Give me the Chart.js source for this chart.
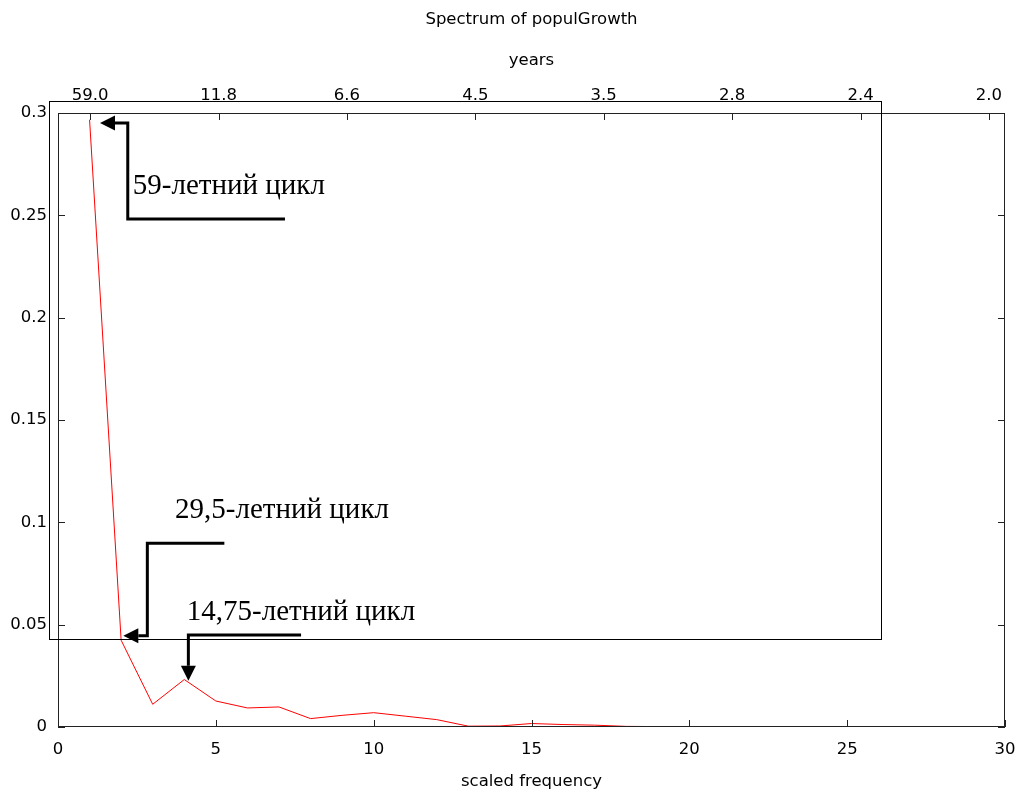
<!DOCTYPE html>
<html>
<head>
<meta charset="utf-8">
<script src="https://cdn.jsdelivr.net/npm/chart.js@4/dist/chart.umd.min.js"></script>
<style>
  html, body { margin: 0; padding: 0; background: #fff; }
  #wrap { width: 1026px; height: 794px; }
</style>
</head>
<body>
<div id="wrap"><canvas id="chart"></canvas></div>
<script>
// scaled frequency (1..29) and spectral power
const freq = [1, 2, 3, 4, 5, 6, 7, 8, 9, 10, 11, 12, 13, 14, 15, 16, 17, 18, 19, 20, 21, 22, 23, 24, 25, 26, 27, 28, 29];
const power = [0.2967, 0.0424, 0.0111, 0.0232, 0.0127, 0.0093, 0.0098, 0.0041, 0.0057, 0.0070,
  0.0053, 0.0036, 0.0004, 0.0005, 0.0017, 0.0012, 0.0009, 0.0003, 0.0002, 0.0001,
  0.0001, 0.0001, 0.0001, 0.0001, 0.0001, 0.0001, 0.0001, 0.0001, 0.0001];

// top axis: period in years at selected frequencies
const yearTickPos = [1, 5, 9, 13, 17, 21, 25, 29];
const yearTickLabels = ["59.0", "11.8", "6.6", "4.5", "3.5", "2.8", "2.4", "2.0"];

const yTickLabels = ["0", "0.05", "0.1", "0.15", "0.2", "0.25", "0.3"];

// annotations (data units of the bottom x axis / y axis); last point of each path is the arrow tip
const notes = [
  { text: "59-летний цикл", at: [2.37, 0.2604], path: [[7.19, 0.2482], [2.21, 0.2482], [2.21, 0.2951], [1.33, 0.2951]] },
  { text: "29,5-летний цикл", at: [3.71, 0.1021], path: [[5.27, 0.0898], [2.83, 0.0898], [2.83, 0.0446], [2.07, 0.0446]] },
  { text: "14,75-летний цикл", at: [4.08, 0.0523], path: [[7.70, 0.0450], [4.13, 0.0450], [4.13, 0.0226]] },
];
// stray frame from the original picture
const boxX = [-0.285, 26.07];
const boxY = [0.04285, 0.3059];

Chart.defaults.font.family = "'DejaVu Sans', Verdana, sans-serif";
Chart.defaults.font.size = 16.5;
Chart.defaults.color = "#000";

const TICK = 7;

const framePlugin = {
  id: "frame",
  afterLayout(chart) {
    // centre the title over the plot area, like gnuplot does
    if (chart.titleBlock) {
      chart.titleBlock.left = chart.chartArea.left;
      chart.titleBlock.right = chart.chartArea.right;
    }
  },
  afterDraw(chart) {
    const { ctx, chartArea: a, scales } = chart;
    const x = scales.x, x2 = scales.x2, y = scales.y;
    ctx.save();

    // border + inward ticks (gnuplot style)
    ctx.strokeStyle = "#222";
    ctx.lineWidth = 1;
    ctx.strokeRect(a.left + 0.5, a.top + 0.5, a.right - a.left - 1, a.bottom - a.top - 1);
    ctx.beginPath();
    x.ticks.forEach(t => {
      const px = Math.round(x.getPixelForValue(t.value)) + 0.5;
      ctx.moveTo(px, a.bottom); ctx.lineTo(px, a.bottom - TICK);
    });
    x2.ticks.forEach(t => {
      const px = Math.round(x2.getPixelForValue(t.value)) + 0.5;
      ctx.moveTo(px, a.top); ctx.lineTo(px, a.top + TICK);
    });
    y.ticks.forEach(t => {
      const py = Math.round(y.getPixelForValue(t.value)) + 0.5;
      ctx.moveTo(a.left, py); ctx.lineTo(a.left + TICK, py);
      ctx.moveTo(a.right, py); ctx.lineTo(a.right - TICK, py);
    });
    ctx.stroke();

    // the stray rectangle
    ctx.strokeStyle = "#000";
    const bl = Math.round(x.getPixelForValue(boxX[0])) + 0.5;
    const br = Math.round(x.getPixelForValue(boxX[1])) + 0.5;
    const bt = Math.round(y.getPixelForValue(boxY[1])) + 0.5;
    const bb = Math.round(y.getPixelForValue(boxY[0])) + 0.5;
    ctx.strokeRect(bl, bt, br - bl, bb - bt);

    // arrows and labels
    ctx.fillStyle = "#000";
    ctx.lineWidth = 3;
    ctx.lineJoin = "miter";
    for (const n of notes) {
      const pts = n.path.map(([vx, vy]) => [x.getPixelForValue(vx), y.getPixelForValue(vy)]);
      const tip = pts[pts.length - 1];
      const prev = pts[pts.length - 2];
      const dx = tip[0] - prev[0], dy = tip[1] - prev[1];
      const len = Math.hypot(dx, dy);
      const ux = dx / len, uy = dy / len;
      const headLen = 15, headW = 7.5;
      const base = [tip[0] - ux * headLen, tip[1] - uy * headLen];

      ctx.beginPath();
      ctx.moveTo(pts[0][0], pts[0][1]);
      for (let i = 1; i < pts.length - 1; i++) ctx.lineTo(pts[i][0], pts[i][1]);
      ctx.lineTo(base[0], base[1]);
      ctx.stroke();

      ctx.beginPath();
      ctx.moveTo(tip[0], tip[1]);
      ctx.lineTo(base[0] - uy * headW, base[1] + ux * headW);
      ctx.lineTo(base[0] + uy * headW, base[1] - ux * headW);
      ctx.closePath();
      ctx.fill();

      ctx.font = "29px 'Liberation Serif', 'Times New Roman', serif";
      ctx.textAlign = "left";
      ctx.textBaseline = "alphabetic";
      ctx.fillText(n.text, x.getPixelForValue(n.at[0]), y.getPixelForValue(n.at[1]));
    }
    ctx.restore();
  }
};

new Chart(document.getElementById("chart"), {
  type: "line",
  data: {
    datasets: [{
      label: "popul",
      data: freq.map((f, i) => ({ x: f, y: power[i] })),
      borderColor: "#ff0000",
      borderWidth: 1,
      pointRadius: 0,
      tension: 0,
      fill: false
    }]
  },
  options: {
    responsive: true,
    maintainAspectRatio: false,
    animation: false,
    layout: { padding: { left: 0, right: 21, top: 0, bottom: 0 } },
    plugins: {
      legend: { display: false },
      tooltip: { enabled: false },
      title: {
        display: true,
        text: "Spectrum of populGrowth",
        font: { size: 16.5, weight: "normal" },
        padding: { top: 10, bottom: 0 }
      }
    },
    scales: {
      x: {
        type: "linear",
        position: "bottom",
        min: 0, max: 30,
        grid: { display: false, drawTicks: false },
        border: { display: false },
        ticks: { stepSize: 5, padding: 13 },
        title: { display: true, text: "scaled frequency", padding: { top: 0, bottom: 2 } },
        afterFit: s => { s.height = 67; s.paddingLeft = 0; s.paddingRight = 0; }
      },
      x2: {
        type: "linear",
        position: "top",
        min: 0, max: 29.5,
        grid: { display: false, drawTicks: false },
        border: { display: false },
        afterBuildTicks: s => { s.ticks = yearTickPos.map(v => ({ value: v })); },
        ticks: { padding: 7, autoSkip: false, maxRotation: 0, callback: (v, i) => yearTickLabels[i] },
        title: { display: true, text: "years", padding: { top: 21, bottom: 0 } },
        afterFit: s => { s.height = 83.2; s.paddingLeft = 0; s.paddingRight = 0; }
      },
      y: {
        min: 0, max: 0.3,
        grid: { display: false, drawTicks: false },
        border: { display: false },
        ticks: { stepSize: 0.05, padding: 11, callback: (v, i) => yTickLabels[i] },
        afterFit: s => { s.width = 58; s.paddingTop = 0; s.paddingBottom = 0; }
      }
    }
  },
  plugins: [framePlugin]
});
</script>
</body>
</html>
